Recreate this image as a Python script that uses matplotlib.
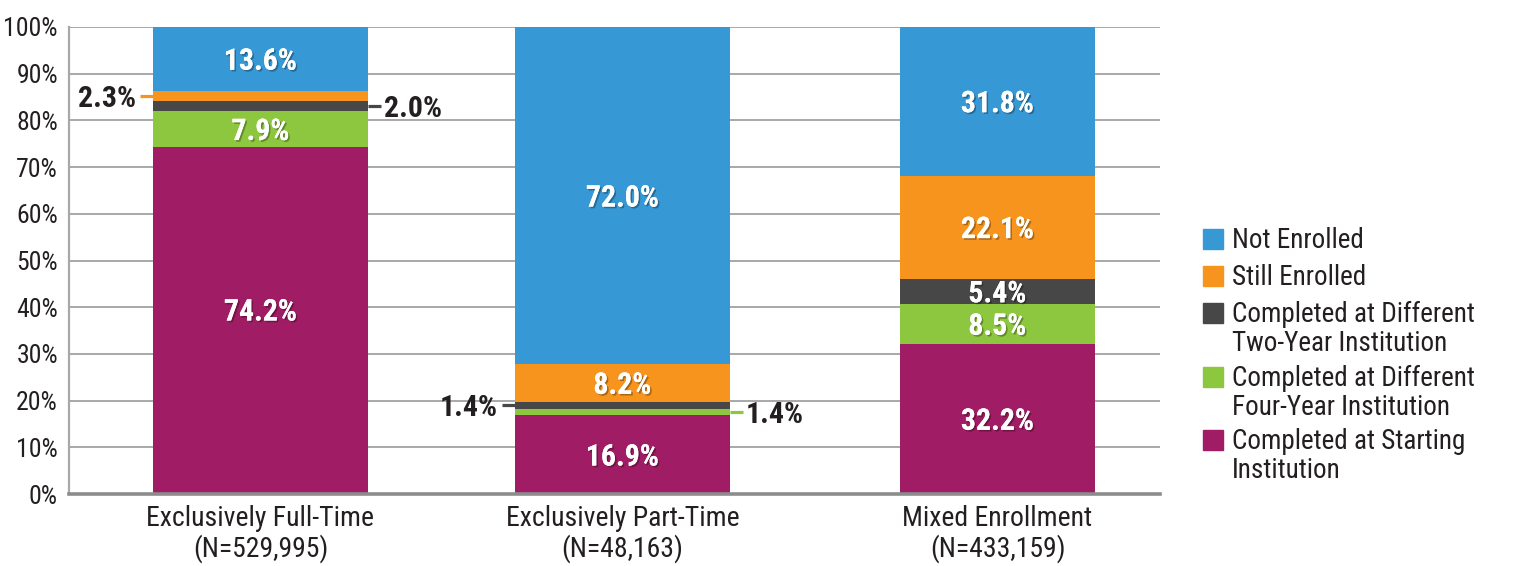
import matplotlib
matplotlib.use("Agg")
import matplotlib.pyplot as plt
import matplotlib.patheffects as pe
from matplotlib.patches import Rectangle

plt.rcParams['font.family'] = ['Roboto Condensed', 'DejaVu Sans']
plt.rcParams['font.stretch'] = 'condensed'

# data (percent of each enrollment group)
categories = ['Exclusively Full-Time\n(N=529,995)',
              'Exclusively Part-Time\n(N=48,163)',
              'Mixed Enrollment\n(N=433,159)']
series = ['Completed at Starting\nInstitution',
          'Completed at Different\nFour-Year Institution',
          'Completed at Different\nTwo-Year Institution',
          'Still Enrolled',
          'Not Enrolled']
starting = [74.2, 16.9, 32.2]
four_year = [7.9, 1.4, 8.5]
two_year = [2.0, 1.4, 5.4]
still_enrolled = [2.3, 8.2, 22.1]
not_enrolled = [13.6, 72.0, 31.8]
values = [starting, four_year, two_year, still_enrolled, not_enrolled]
colors = ['#a01c64', '#8dc63f', '#474747', '#f7941d', '#3698d4']

# layout (x axis runs 0..1091, roughly pixels)
centers = [191.5, 553.5, 928.5]
widths = [215, 215, 195]
dark = '#231f20'

fig = plt.figure(figsize=(15.14, 5.66), dpi=100)
ax = fig.add_axes([69 / 1514, 72 / 566, 1091 / 1514, 467 / 566])

bottoms = [0.0, 0.0, 0.0]
seg = {}
for k, (vals, c) in enumerate(zip(values, colors)):
    ax.bar(centers, vals, width=widths, bottom=bottoms, color=c, zorder=3)
    for i, v in enumerate(vals):
        seg[(k, i)] = (bottoms[i], bottoms[i] + v)
    bottoms = [b + v for b, v in zip(bottoms, vals)]

shadow = [pe.withSimplePatchShadow(offset=(1.2, -1.2), shadow_rgbFace='black', alpha=0.3),
          pe.Normal()]

# labels inside the bars
small = {(2, 0), (3, 0), (1, 1), (2, 1)}
nudge = {(0, 0): 2.4}   # the big full-time label sits a bit above centre
for k in range(len(series)):
    for i in range(3):
        if (k, i) in small:
            continue
        lo, hi = seg[(k, i)]
        ax.text(centers[i], (lo + hi) / 2 + nudge.get((k, i), 0), f'{hi - lo:.1f}%',
                color='white', fontsize=21.5, fontweight='bold', ha='center',
                va='center_baseline', zorder=5, path_effects=shadow)

# small segments get a label outside with a short leader line
callouts = [(3, 0, 'left'), (2, 0, 'right'), (2, 1, 'left'), (1, 1, 'right')]
for k, i, side in callouts:
    lo, hi = seg[(k, i)]
    y = (lo + hi) / 2
    if side == 'left':
        x0 = centers[i] - widths[i] / 2
        x1 = x0 - 13
        ha, tx = 'right', x1 - 4
    else:
        x0 = centers[i] + widths[i] / 2
        x1 = x0 + 13
        ha, tx = 'left', x1 + 3
    ax.plot([x0, x1], [y, y], color=colors[k], lw=2.3, zorder=4,
            solid_capstyle='butt')
    ax.text(tx, y, f'{hi - lo:.1f}%', color=dark, fontsize=21.5,
            fontweight='bold', ha=ha, va='center_baseline', zorder=5)

ax.set_xlim(0, 1091)
ax.set_ylim(0, 100)
ax.set_yticks(range(0, 101, 10))
ax.set_yticklabels([f'{t}%' for t in range(0, 101, 10)])
ax.set_xticks(centers)
ax.set_xticklabels(categories, linespacing=1.08, fontsize=20)
ax.tick_params(axis='both', length=0, colors=dark)
ax.tick_params(axis='y', pad=8, labelsize=18.5)
ax.tick_params(axis='x', pad=8)
ax.grid(axis='y', color='#a8a8a8', lw=1.4, zorder=0)
ax.set_axisbelow(True)
for sp in ['top', 'right']:
    ax.spines[sp].set_visible(False)
ax.spines['left'].set_color('#a8a8a8')
ax.spines['left'].set_linewidth(1.6)
ax.spines['bottom'].set_color('#8c8c8c')
ax.spines['bottom'].set_linewidth(2.6)
ax.spines['bottom'].set_zorder(6)

# legend, placed in figure pixels (top of swatch)
legend_items = [(4, 229), (3, 266), (2, 303), (1, 367), (0, 430)]
for k, ytop in legend_items:
    fig.add_artist(Rectangle((1203 / 1514, 1 - (ytop + 20) / 566), 20 / 1514, 20 / 566,
                             transform=fig.transFigure, color=colors[k]))
    fig.text(1232 / 1514, 1 - (ytop - 2) / 566, series[k], fontsize=19.5,
             color=dark, ha='left', va='top', linespacing=1.1)

fig.savefig('out.png', dpi=100)
